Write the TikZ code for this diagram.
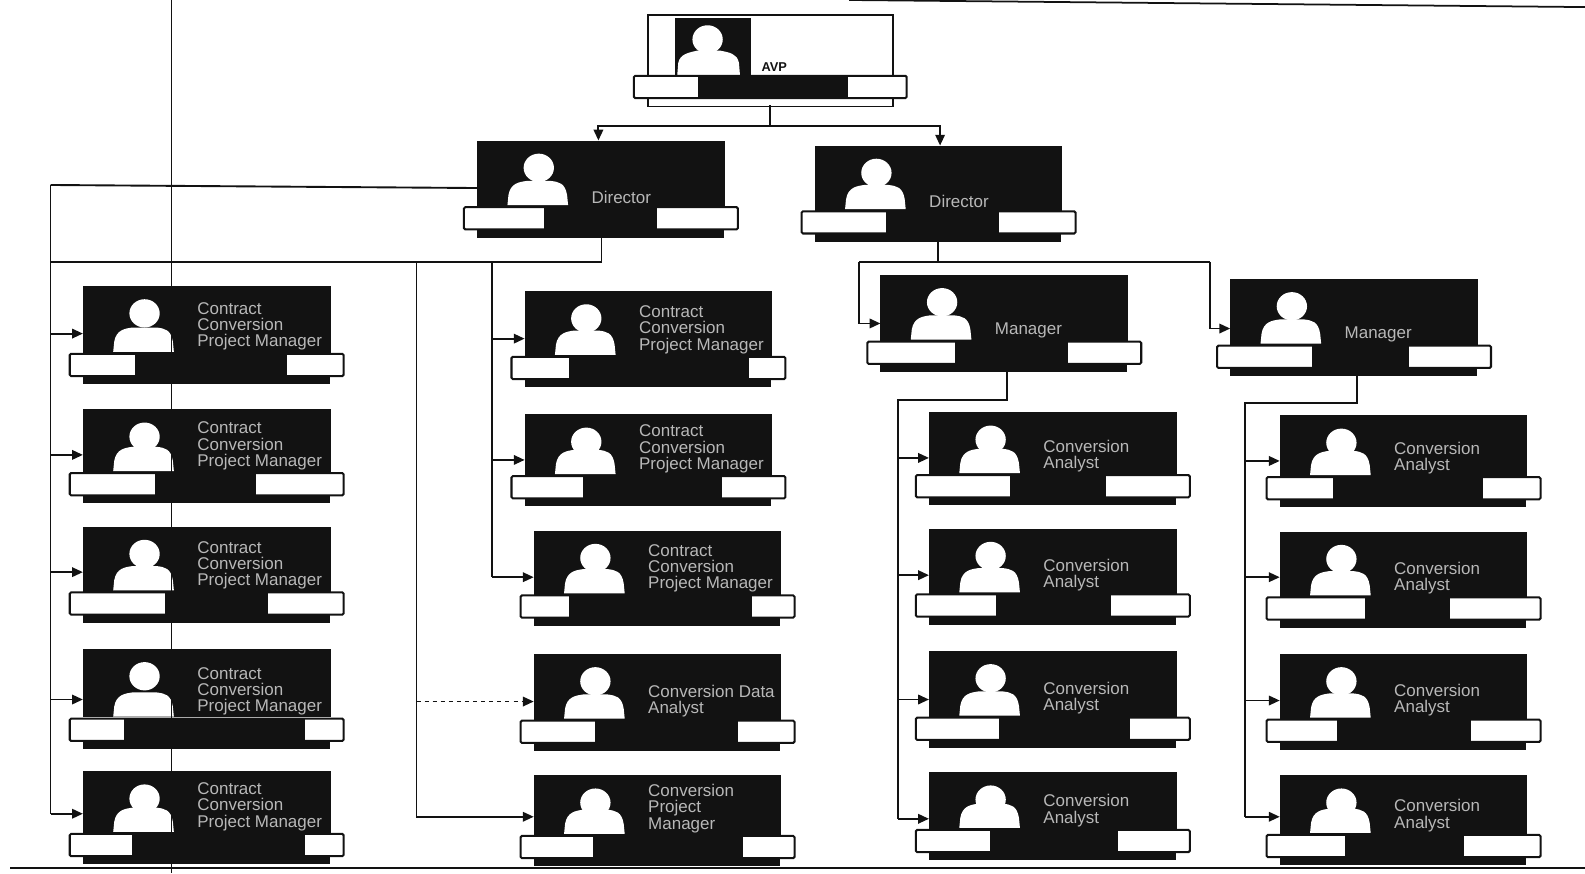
\documentclass[tikz,border=0pt]{standalone}
\usepackage{fontspec}
\setmainfont{Liberation Sans}
\usetikzlibrary{arrows.meta}
\definecolor{ink}{gray}{0.07}
\tikzset{
  link/.style={draw=ink,line width=1.4pt},
  arrowlink/.style={link,-{Triangle[length=8pt,width=7pt]}},
  photo/.style={fill=ink,draw=ink,line width=.5pt,inner sep=0pt,minimum width=183pt,minimum height=50pt,anchor=north west},
  barbox/.style={fill=white,draw=ink,line width=1.5pt,rounded corners=1pt},
  label/.style={text=white!72!black,font=\fontsize{12.6}{12}\selectfont,align=left,anchor=south west,inner sep=0pt},
}
% name, x, y, bar y, black from, black to, arrow y, text
\newcommand{\card}[8]{%
  \fill[ink] (#2,#4+10) rectangle (#2+244,#4+30);
  \node[photo] (#1) at (#2,#3) {};
  \draw[barbox] (#2-13,#4) rectangle (#2+258,#4+22);
  \fill[ink] (#5,#4) rectangle (#6,#4+23);
  \fill[white] (#2+61,#3+27) circle (15 and 14);
  \fill[white] (#2+30,#4-2) -- (#2+31,#4-12) .. controls (#2+33,#4-24) and (#2+42,#4-25) .. (#2+49,#4-26)
     -- (#2+73,#4-26) .. controls (#2+81,#4-25) and (#2+87,#4-24) .. (#2+89,#4-12) -- (#2+90,#4-2) -- cycle;
  \node[label] (#1-t) at (#2+113,#4-3) {#8};
  \coordinate (#1-in) at (#2,#7);
}
\begin{document}
\begin{tikzpicture}[x=0.75pt,y=-0.75pt]
\useasboundingbox (0,0) rectangle (1568,864);
\fill[white] (0,0) rectangle (1568,864);
% AVP
\node[draw=ink,line width=1.2pt,fill=white,inner sep=0pt,minimum width=182pt,minimum height=68pt,anchor=north west] (avp) at (640,14) {};
\fill[ink] (668,18) rectangle (743,75);
\fill[white] (700,39) circle (15 and 14);
\fill[white] (670,74) -- (671,62) .. controls (673,53) and (682,52) .. (690,50) -- (712,50) .. controls (722,52) and (729,53) .. (731,62) -- (732,74) -- cycle;
\draw[barbox] (627,75) rectangle (897,97);
\fill[ink] (691,75) rectangle (839,97);
\node[font=\fontsize{9.5}{10}\bfseries\selectfont,text=ink,inner sep=0pt] (avpt) at (766,66) {AVP};
% Directors & managers
\card{d1}{472}{139}{205}{538}{650}{186}{Director}
\card{d2}{806}{144}{209}{876}{988}{190}{Director}
\card{m1}{871}{272}{338}{945}{1057}{320}{Manager}
\card{m2}{1217}{276}{342}{1298}{1394}{325}{Manager}
% Column 1
\card{a1}{82}{283}{350}{134}{284}{330}{Contract\\Conversion\\Project Manager}
\card{a2}{82}{405}{468}{153}{253}{450}{Contract\\Conversion\\Project Manager}
\card{a3}{82}{521}{586}{163}{265}{566}{Contract\\Conversion\\Project Manager}
\card{a4}{82}{642}{711}{123}{302}{692}{Contract\\Conversion\\Project Manager}
\card{a5}{82}{763}{825}{131}{302}{805}{Contract\\Conversion\\Project Manager}
% Column 2
\card{b1}{519}{288}{353}{563}{741}{335}{Contract\\Conversion\\Project Manager}
\card{b2}{519}{410}{471}{577}{714}{455}{Contract\\Conversion\\Project Manager}
\card{b3}{528}{525}{589}{563}{744}{571}{Contract\\Conversion\\Project Manager}
\card{b4}{528}{647}{713}{589}{730}{694}{Conversion Data\\Analyst}
\card{b5}{528}{767}{827}{587}{735}{808}{Conversion\\Project\\Manager}
% Column 3
\card{c1}{919}{408}{470}{999}{1094}{453}{Conversion\\Analyst}
\card{c2}{919}{523}{588}{985}{1099}{569}{Conversion\\Analyst}
\card{c3}{919}{644}{710}{988}{1118}{692}{Conversion\\Analyst}
\card{c4}{919}{764}{821}{979}{1106}{810}{Conversion\\Analyst}
% Column 4
\card{e1}{1266}{411}{472}{1319}{1467}{456}{Conversion\\Analyst}
\card{e2}{1266}{526}{591}{1350}{1434}{571}{Conversion\\Analyst}
\card{e3}{1266}{647}{712}{1323}{1455}{693}{Conversion\\Analyst}
\card{e4}{1266}{767}{826}{1331}{1448}{808}{Conversion\\Analyst}
% Routing coordinates
\coordinate (avpdrop) at (762,104);
\coordinate (avpbus) at (762,125);
\coordinate (d1out) at (595,235);
\coordinate (d1bus) at (595,259);
\coordinate (d2out) at (928,239);
\coordinate (d2bus) at (928,259);
\coordinate (m1out) at (996,368);
\coordinate (m1bus) at (996,396);
\coordinate (m2out) at (1342,372);
\coordinate (m2bus) at (1342,399);
\coordinate (ta) at (50,183);
\coordinate (tb) at (487,259);
\coordinate (tc) at (412,259);
\coordinate (tm1) at (850,259);
\coordinate (tm2) at (1197,259);
\coordinate (tcc) at (888,396);
\coordinate (tee) at (1232,399);
% Connectors
\draw[link] (avpdrop) -- (avpbus);
\draw[arrowlink] (avpbus) -| (d1.north -| 592,0);
\draw[arrowlink] (avpbus) -| (d2.north -| 930,0);
\draw[link] (d1-in) -- (ta);
\draw[link] (ta) -- (ta |- a5-in);
\draw[link] (d1out) -- (d1bus) -- (ta |- d1bus);
\foreach \n in {a1,a2,a3,a4,a5} \draw[arrowlink] (ta |- \n-in) -- (\n-in);
\draw[link] (tb) -- (tb |- b3-in);
\foreach \n in {b1,b2,b3} \draw[arrowlink] (tb |- \n-in) -- (\n-in);
\draw[link] (tc) -- (tc |- b5-in);
\draw[arrowlink,dashed] (tc |- b4-in) -- (b4-in);
\draw[arrowlink] (tc |- b5-in) -- (b5-in);
\draw[link] (d2out) -- (d2bus);
\draw[link] (tm1) -- (tm2);
\draw[arrowlink] (tm1) |- (m1-in);
\draw[arrowlink] (tm2) |- (m2-in);
\draw[link] (m1out) -- (m1bus) -- (tcc) -- (tcc |- c4-in);
\foreach \n in {c1,c2,c3,c4} \draw[arrowlink] (tcc |- \n-in) -- (\n-in);
\draw[link] (m2out) -- (m2bus) -- (tee) -- (tee |- e4-in);
\foreach \n in {e1,e2,e3,e4} \draw[arrowlink] (tee |- \n-in) -- (\n-in);
% Scan edges
\draw[ink,line width=.8pt] (170,0) -- (170,864);
\draw[ink,line width=1.3pt] (840,0) -- (1568,7);
\draw[ink,line width=1.4pt] (10,859) -- (1568,859);
\end{tikzpicture}
\end{document}
